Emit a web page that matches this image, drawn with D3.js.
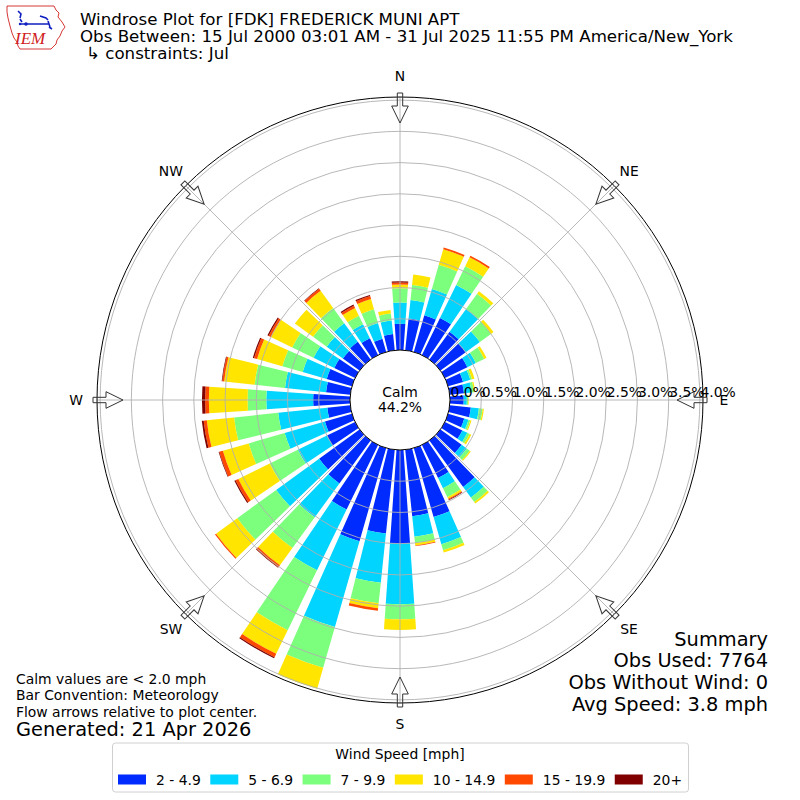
<!DOCTYPE html>
<html><head><meta charset="utf-8">
<script src="https://cdn.jsdelivr.net/npm/d3@7"></script>
<style>
body{margin:0;background:#fff}
svg{display:block;font-family:"DejaVu Sans",sans-serif}
</style>
</head><body>
<svg id="chart" width="800" height="800"></svg>
<script>
// ---------------- data ----------------
const directions = d3.range(0, 360, 10);
const speedBins = ["2 - 4.9", "5 - 6.9", "7 - 9.9", "10 - 14.9", "15 - 19.9", "20+"];
const binColors = ["#002bff", "#00d4ff", "#7cff7c", "#ffe500", "#ff4900", "#800000"];
const radialTicks = [0, 0.5, 1, 1.5, 2, 2.5, 3, 3.5, 4];
const compassLabels = ["N", "NE", "E", "SE", "S", "SW", "W", "NW"];
const calmPct = 44.2;
// percent of observations per direction (0,10,...,350) for each speed bin
const spd2to5   = [0.42,0.51,0.61,0.66,0.55,0.50,0.40,0.25,0.23,0.22,0.34,0.27,0.31,0.42,0.92,0.59,1.15,1.07,1.50,1.35,1.55,1.15,0.85,0.80,0.50,0.45,0.37,0.59,0.39,0.42,0.37,0.33,0.35,0.30,0.22,0.26];
const spd5to7   = [0.34,0.30,0.44,0.59,0.45,0.28,0.15,0.12,0.12,0.05,0.13,0.07,0.09,0.10,0.21,0.18,0.45,0.33,0.97,0.79,1.43,1.08,0.67,0.85,0.52,0.67,0.79,0.75,0.66,0.40,0.37,0.32,0.37,0.25,0.26,0.22];
const spd7to10  = [0.23,0.24,0.40,0.33,0.30,0.22,0.15,0.03,0.04,0.02,0.06,0.03,0.04,0.06,0.09,0.16,0.10,0.10,0.24,0.33,0.68,1.07,0.61,0.77,0.50,0.60,0.71,0.30,0.49,0.34,0.38,0.27,0.30,0.15,0.23,0.11];
const spd10to15 = [0.06,0.17,0.26,0.16,0.05,0.05,0.04,0.04,0.02,0.01,0.02,0.02,0.03,0.02,0.03,0.03,0.04,0.04,0.17,0.08,0.35,0.42,0.34,0.42,0.56,0.43,0.44,0.62,0.49,0.42,0.38,0.36,0.34,0.14,0.17,0.06];
const spd15to20 = [0.03,0,0.03,0.03,0,0,0,0,0,0,0,0,0,0,0,0.015,0,0.01,0,0.04,0,0.06,0.04,0.02,0.05,0.06,0.05,0.06,0.03,0.05,0.04,0,0.04,0.04,0.05,0];
const spd20plus = [0.02,0,0,0,0,0,0,0,0,0,0,0,0,0,0,0.01,0,0,0,0,0,0.02,0.01,0,0.02,0.01,0.03,0.05,0.01,0.02,0.02,0,0.01,0.02,0.02,0];
const seriesValues = [spd2to5, spd5to7, spd7to10, spd10to15, spd15to20, spd20plus];

const titleLines = ["Windrose Plot for [FDK] FREDERICK MUNI APT",
  "Obs Between: 15 Jul 2000 03:01 AM - 31 Jul 2025 11:55 PM America/New_York",
  "\u21b3 constraints: Jul"];
const noteLines = ["Calm values are < 2.0 mph", "Bar Convention: Meteorology", "Flow arrows relative to plot center."];
const generatedText = "Generated: 21 Apr 2026";
const summaryLines = ["Summary", "Obs Used: 7764", "Obs Without Wind: 0", "Avg Speed: 3.8 mph"];

// ---------------- layout ----------------
const svg = d3.select("#chart");
const cx = 400, cy = 400;
const rScale = d3.scaleLinear().domain([0, 4.05]).range([50, 303]);
const barWidth = 8 * Math.PI / 180;
const rad = d => d * Math.PI / 180;

svg.append("rect").attr("width", 800).attr("height", 800).attr("fill", "#fff");

const g = svg.append("g").attr("transform", `translate(${cx},${cy})`);

// stacked data
const rows = directions.map((d, i) => {
  const o = {dir: d};
  speedBins.forEach((b, j) => o[b] = seriesValues[j][i]);
  return o;
});
const stacked = d3.stack().keys(speedBins)(rows);
const arc = d3.arc();

const barsG = g.append("g");
stacked.forEach((layer, j) => {
  barsG.selectAll(null).data(layer.filter(s => s[1] - s[0] > 0)).join("path")
    .attr("d", s => arc({
      innerRadius: rScale(s[0]), outerRadius: rScale(s[1]),
      startAngle: rad(s.data.dir) - barWidth / 2, endAngle: rad(s.data.dir) + barWidth / 2
    }))
    .attr("fill", binColors[j]);
});

// grid
const gridG = g.append("g");
gridG.selectAll("circle").data(radialTicks.filter(t => t > 0)).join("circle")
  .attr("r", t => rScale(t)).attr("fill", "none").attr("stroke", "#b0b0b0").attr("stroke-width", 0.9);
gridG.selectAll("line").data(d3.range(0, 360, 45)).join("line")
  .attr("x1", a => rScale(0) * Math.sin(rad(a))).attr("y1", a => -rScale(0) * Math.cos(rad(a)))
  .attr("x2", a => rScale(4.05) * Math.sin(rad(a))).attr("y2", a => -rScale(4.05) * Math.cos(rad(a)))
  .attr("stroke", "#b0b0b0").attr("stroke-width", 0.9);

// outer spine
g.append("circle").attr("r", rScale(4.05)).attr("fill", "none").attr("stroke", "#000").attr("stroke-width", 1);

// calm circle
g.append("circle").attr("r", rScale(0)).attr("fill", "#fff").attr("stroke", "#000").attr("stroke-width", 1);
g.append("text").attr("x", 0).attr("y", -3.5).attr("text-anchor", "middle").attr("font-size", 13.9).text("Calm");
g.append("text").attr("x", 0).attr("y", 12).attr("text-anchor", "middle").attr("font-size", 13.9).text(calmPct.toFixed(1) + "%");

// flow arrows
const arrowPts = [[-2.7, -307], [-2.7, -294], [-8.3, -294], [0, -277], [8.3, -294], [2.7, -294], [2.7, -307]];
g.selectAll("path.arrow").data(d3.range(0, 360, 45)).join("path")
  .attr("class", "arrow")
  .attr("transform", a => `rotate(${a})`)
  .attr("d", d3.line()(arrowPts) + "Z")
  .attr("fill", "none").attr("stroke", "#333").attr("stroke-width", 1);

// compass labels
g.selectAll("text.dir").data(compassLabels).join("text")
  .attr("class", "dir")
  .attr("x", (d, i) => 324 * Math.sin(rad(i * 45)))
  .attr("y", (d, i) => -324 * Math.cos(rad(i * 45)) + 5)
  .attr("text-anchor", "middle").attr("font-size", 13.9).text(d => d);

// radial labels
g.selectAll("text.rl").data(radialTicks).join("text")
  .attr("class", "rl")
  .attr("x", t => rScale(t) + 0.5).attr("y", -3)
  .attr("font-size", 13.9).text(t => t.toFixed(1) + "%");

// ---------------- header ----------------
const logo = svg.append("g");
logo.append("path")
  .attr("d", "M7,6 L54,6 L56,10 L59,13 L58,17 L62,22 L65,27 L62,31 L60,36 L57,40 L56,44 L53,47 L51,49 L20,49 L18,46 L17,42 L14,38 L12,33 L10,26 L8,18 L7,12 Z")
  .attr("fill", "#fff").attr("stroke", "#d02020").attr("stroke-width", 0.9);
logo.append("path").attr("d", "M18,11 L21,14 L20,18 M20,19 L22,22 M21,24 L49,24 M40,16 L46,18 L48,20 M48,21 L50,27 M49,27 L52,29")
  .attr("fill", "none").attr("stroke", "#1020c0").attr("stroke-width", 1.6);
logo.append("circle").attr("cx", 26).attr("cy", 24).attr("r", 1.8).attr("fill", "#1020c0");
logo.append("circle").attr("cx", 20).attr("cy", 24).attr("r", 1.2).attr("fill", "#1020c0");
logo.append("text").attr("x", 15).attr("y", 44).attr("font-family", "'Liberation Serif','DejaVu Serif',serif")
  .attr("font-style", "italic").attr("font-size", 17).attr("fill", "#d02020").text("IEM");

const titleY = [25, 42, 59.3];
const titleX = [80, 80, 86];
svg.selectAll("text.title").data(titleLines).join("text")
  .attr("class", "title").attr("x", (d, i) => titleX[i]).attr("y", (d, i) => titleY[i])
  .attr("font-size", 16.67).text(d => d);

// ---------------- footer ----------------
const noteY = [684, 700.3, 716.5];
svg.selectAll("text.note").data(noteLines).join("text")
  .attr("class", "note").attr("x", 16).attr("y", (d, i) => noteY[i])
  .attr("font-size", 13.9).text(d => d);
svg.append("text").attr("x", 16).attr("y", 735.5).attr("font-size", 19.4).text(generatedText);

const sumY = [645.8, 667, 689, 711];
svg.selectAll("text.sum").data(summaryLines).join("text")
  .attr("class", "sum").attr("x", 768).attr("y", (d, i) => sumY[i])
  .attr("text-anchor", "end").attr("font-size", 19.4).text(d => d);

// ---------------- legend ----------------
const leg = svg.append("g");
leg.append("rect").attr("x", 112.5).attr("y", 743).attr("width", 576).attr("height", 49)
  .attr("rx", 3).attr("fill", "#fff").attr("stroke", "#d0d0d0").attr("stroke-width", 1);
leg.append("text").attr("x", 400).attr("y", 759).attr("text-anchor", "middle").attr("font-size", 13.9).text("Wind Speed [mph]");
let lx = 118;
speedBins.forEach((b, j) => {
  leg.append("rect").attr("x", lx).attr("y", 774.5).attr("width", 28).attr("height", 10).attr("fill", binColors[j]);
  const t = leg.append("text").attr("x", lx + 38).attr("y", 784.8).attr("font-size", 13.9).text(b);
  lx += 38 + t.node().getComputedTextLength() + 9.5;
});
</script>
</body></html>
